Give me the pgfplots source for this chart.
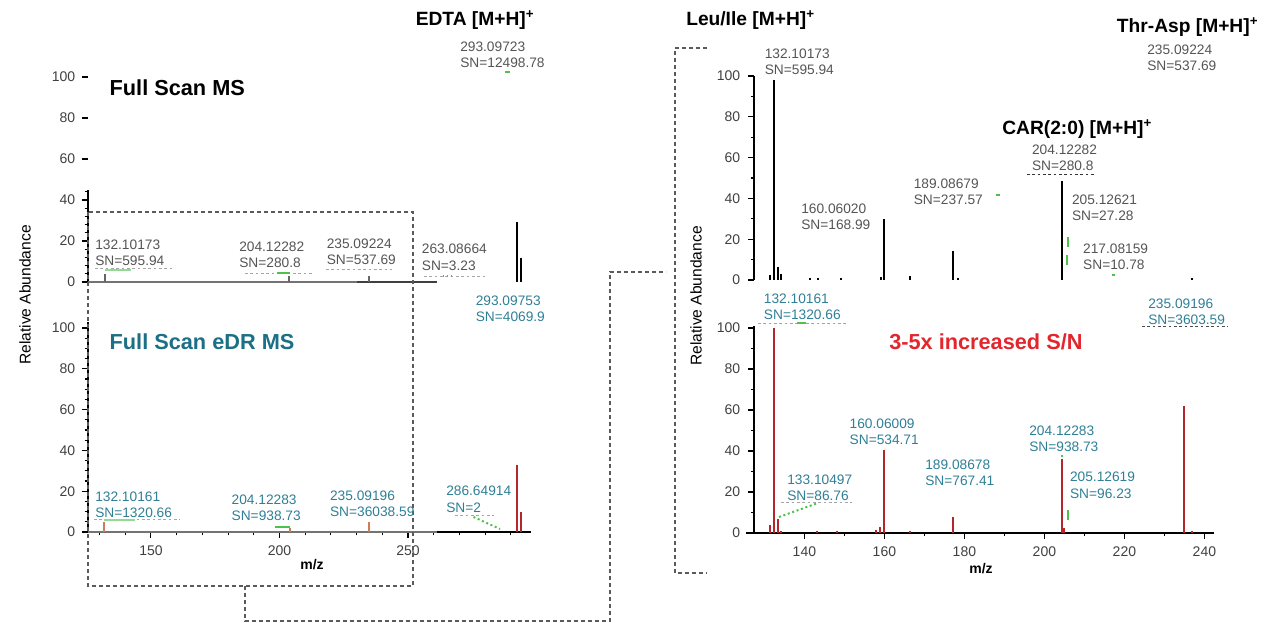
\documentclass[border=0pt]{standalone}
\usepackage{pgfplots}
\pgfplotsset{compat=1.18}
\usepackage{fontspec}
\setmainfont{Liberation Sans}
\definecolor{lblgray}{HTML}{555555}
\definecolor{lblteal}{HTML}{2F7F96}
\definecolor{headteal}{HTML}{1B6F86}
\definecolor{headred}{HTML}{E3262D}
\definecolor{peakred}{HTML}{B3262C}
\definecolor{boxgray}{HTML}{5A5A5A}
\definecolor{agreen}{HTML}{4CC24C}
\definecolor{orng}{HTML}{D07A5A}
\newcommand{\lblfont}{\fontsize{10.3}{12}\selectfont}
\newcommand{\headfont}{\fontsize{16.3}{18}\selectfont\bfseries}
\newcommand{\ionfont}{\fontsize{14.4}{16}\selectfont\bfseries}
\newcommand{\tickfont}{\fontsize{10.5}{12}\selectfont}
\pgfplotsset{
  spec/.style={
    clip=false,
    axis lines=left, axis line style={-, line width=1pt, black},
    tick align=outside, major tick length=4.5pt, minor tick length=2.5pt,
    tick style={black, line width=0.8pt},
    /pgf/number format/assume math mode=true,
    ticklabel style={font=\tickfont, text=black!75, inner sep=0pt},
    yticklabel style={anchor=east, xshift=-4.9pt},
    xticklabel style={anchor=north, yshift=-5.6pt},
    enlargelimits=false,
    anchor=south west,
  }
}
\tikzset{
  lg/.style={anchor=west, inner sep=0pt, text=lblgray, font=\lblfont},
  lt/.style={anchor=west, inner sep=0pt, text=lblteal, font=\lblfont},
  ion/.style={anchor=west, inner sep=0pt, font=\ionfont},
  head/.style={anchor=west, inner sep=0pt, font=\headfont},
  box/.style={draw=boxgray, line width=1.5pt, dash pattern=on 3pt off 2.25pt},
  grn/.style={draw=agreen, line width=1pt},
  und/.style={draw=black!35, line width=0.6pt, dash pattern=on 2pt off 2pt},
}
\begin{document}
\begin{tikzpicture}[x=0.75pt,y=-0.75pt]
\path[use as bounding box] (0,0) rectangle (1264,623);

% ---------- left top: Full Scan MS ----------
\begin{axis}[spec, at={(66pt,-211.5pt)}, x=1.9275pt, y=1.5375pt,
  xmin=125.5, xmax=298, ymin=0, ymax=100,
  x axis line style={draw=none}, y axis line style={draw=none},
  xtick=\empty, ytick={0,20,...,100}, minor ytick={4,8,...,44}]
\draw[black, line width=1pt] (axis cs:125.5,0) -- (axis cs:125.5,45);
\draw[black!55, line width=2.2pt] (axis cs:125.5,0) -- (axis cs:230.2,0);
\draw[black!75, line width=1.6pt] (axis cs:230.2,0) -- (axis cs:261.3,0);
\addplot[ycomb, black!60, line width=1.2pt, mark=none] coordinates {(132.1,4) (203.7,3) (234.8,3)};
\addplot[ycomb, black, line width=1.5pt, mark=none] coordinates {(292.3,29.5) (293.9,11.5)};
\end{axis}

% ---------- left bottom: Full Scan eDR MS ----------
\begin{axis}[spec, at={(66pt,-399pt)}, x=1.9275pt, y=1.53pt,
  xmin=125.5, xmax=298, ymin=0, ymax=103,
  x axis line style={draw=none},
  xtick={150,200,250}, minor xtick={130,140,...,290},
  ytick={0,20,...,100}, minor y tick num=3]
\draw[black!55, line width=1.6pt] (axis cs:125.5,0) -- (axis cs:261.3,0);
\draw[black, line width=1.2pt] (axis cs:261.3,0) -- (axis cs:298,0);
\addplot[ycomb, orng, line width=1.2pt, mark=none] coordinates {(131.7,5) (204,2) (234.8,5)};
\addplot[ycomb, peakred, line width=1.5pt, mark=none] coordinates {(292.3,33) (293.9,10)};
\end{axis}

% ---------- right top ----------
\begin{axis}[spec, at={(565.5pt,-210pt)}, x=3pt, y=1.53pt,
  xmin=127.4, xmax=242.3, ymin=0, ymax=100,
  x axis line style={draw=none}, xtick=\empty,
  ytick={0,20,...,100}, minor y tick num=1, yticklabel style={xshift=-0.7pt}]
\addplot[ycomb, black, line width=1.5pt, mark=none] coordinates {
 (131.4,2.5) (132.5,98) (133.3,6.5) (134.1,3) (141.5,1) (143.3,1) (149.1,1)
 (159.1,1.5) (159.9,30) (166.4,2) (177.25,14) (178.3,1) (204.3,48.5) (236.9,1)};
\end{axis}

% ---------- right bottom ----------
\begin{axis}[spec, at={(565.5pt,-399.75pt)}, x=3pt, y=1.5375pt,
  xmin=127.4, xmax=242.3, ymin=0, ymax=101,
  xtick={140,160,...,240}, minor x tick num=1,
  ytick={0,20,...,100}, minor y tick num=1, yticklabel style={xshift=-0.7pt}]
\draw[black, line width=1pt] (axis cs:125.4,0) -- (axis cs:127.4,0);
\addplot[ycomb, peakred, line width=1.5pt, mark=none] coordinates {
 (131.4,4) (132.5,100) (133.4,7) (134.1,1) (143.1,1) (148.1,1) (157.9,1.5)
 (158.9,3) (159.9,40.5) (166.4,1) (177.25,8) (204.3,36) (204.8,2.5) (234.9,62) (236.9,1)};
\end{axis}

% ---------- dashed boxes / connectors ----------
\draw[box] (88,212) rectangle (413,586);
\draw[box] (245,586) -- (245,621) -- (610,621) -- (610,272) -- (666,272);
\draw[box, line width=1.2pt] (707,48) -- (675,48) -- (675,573) -- (707,573);

% ---------- faint underlines ----------
\draw[und] (95,268) -- (175,268);
\draw[und] (245,273) -- (314,273);
\draw[und] (326,269) -- (392,269);
\draw[und] (424,276) -- (486,276);
\draw[und] (94,519) -- (180,519);
\draw[und] (455,515) -- (494,515);
\draw[und, draw=black!80] (1027,174) -- (1096,174);
\draw[und] (758,323) -- (848,323);
\draw[und, draw=black!70] (1142,326) -- (1228,326);
\draw[und] (781,502) -- (852,502);

% ---------- green annotation marks ----------
\draw[grn] (505,72) -- (510,72);
\draw[grn, draw=agreen!60] (105,270) -- (131,270);
\draw[grn] (277,273) -- (290,273);
\draw[grn, dotted] (443,276) -- (455,276);
\draw[grn, draw=agreen!60] (104,520) -- (135,520);
\draw[grn] (275,527) -- (290,527);
\draw[grn, line width=1.5pt, dotted] (473.5,517) -- (500,529);
\draw[grn] (996,195) -- (1000,195);
\draw[grn, line width=1.5pt] (1067.8,237) -- (1067.8,247);
\draw[grn, line width=1.5pt] (1066.5,255) -- (1066.5,265);
\draw[grn] (1112,275) -- (1115,275);
\draw[grn, line width=1.5pt] (797,323) -- (806,323);
\draw[grn, line width=1.5pt, dotted] (779,517) -- (818,503);
\draw[grn, line width=1.5pt] (1067.8,510) -- (1067.8,520);
\draw[grn] (1061,456) -- (1063,456);

% ---------- left texts ----------
\node[ion] at (415.5,20) {EDTA [M+H]\textsuperscript{+}};
\node[lg] at (460,47) {293.09723};
\node[lg] at (460,63) {SN=12498.78};
\node[head] at (109.4,88) {Full Scan MS};
\node[lg] at (95,245) {132.10173};
\node[lg] at (95,261) {SN=595.94};
\node[lg] at (239,247) {204.12282};
\node[lg] at (239,263) {SN=280.8};
\node[lg] at (326.5,244) {235.09224};
\node[lg] at (326.5,260) {SN=537.69};
\node[lg] at (421.6,249) {263.08664};
\node[lg] at (421.6,266) {SN=3.23};
\node[lt] at (475.5,300.7) {293.09753};
\node[lt] at (475.5,316.7) {SN=4069.9};
\node[head, text=headteal] at (109.4,341.7) {Full Scan eDR MS};
\node[lt] at (95,496.7) {132.10161};
\node[lt] at (95,512.7) {SN=1320.66};
\node[lt] at (231.4,500) {204.12283};
\node[lt] at (231.4,516) {SN=938.73};
\node[lt] at (329.8,496) {235.09196};
\node[lt] at (329.8,512) {SN=36038.59};
\node[lt] at (446,490.7) {286.64914};
\node[lt] at (446,507.3) {SN=2};
\node[font=\tickfont\bfseries, inner sep=0pt] at (312,565) {m/z};
\node[rotate=90, inner sep=0pt, font=\fontsize{11.7}{13}\selectfont] at (25,295) {Relative Abundance};

% ---------- right texts ----------
\node[ion] at (686,20) {Leu/Ile [M+H]\textsuperscript{+}};
\node[lg] at (764.5,53.3) {132.10173};
\node[lg] at (764.5,69.3) {SN=595.94};
\node[ion] at (1116.7,26.7) {Thr-Asp [M+H]\textsuperscript{+}};
\node[lg] at (1147,50) {235.09224};
\node[lg] at (1147,66) {SN=537.69};
\node[ion] at (1002,129.3) {CAR(2:0) [M+H]\textsuperscript{+}};
\node[lg] at (1031.8,150) {204.12282};
\node[lg] at (1031.8,166) {SN=280.8};
\node[lg] at (913.5,183.3) {189.08679};
\node[lg] at (913.5,199.3) {SN=237.57};
\node[lg] at (801,208.3) {160.06020};
\node[lg] at (801,224.3) {SN=168.99};
\node[lg] at (1071.8,199.3) {205.12621};
\node[lg] at (1071.8,215.3) {SN=27.28};
\node[lg] at (1082.9,248.3) {217.08159};
\node[lg] at (1082.9,265) {SN=10.78};
\node[lt] at (763.7,298.3) {132.10161};
\node[lt] at (763.7,315) {SN=1320.66};
\node[lt] at (1148,303.3) {235.09196};
\node[lt] at (1148,320) {SN=3603.59};
\node[head, text=headred] at (889,341.7) {3-5x increased S/N};
\node[lt] at (849.4,423.3) {160.06009};
\node[lt] at (849.4,439.3) {SN=534.71};
\node[lt] at (925,464.3) {189.08678};
\node[lt] at (925,480.3) {SN=767.41};
\node[lt] at (1029,431) {204.12283};
\node[lt] at (1029,447) {SN=938.73};
\node[lt] at (787,479.3) {133.10497};
\node[lt] at (787,496) {SN=86.76};
\node[lt] at (1069.8,476.7) {205.12619};
\node[lt] at (1069.8,493.3) {SN=96.23};
\node[font=\tickfont\bfseries, inner sep=0pt] at (981,569) {m/z};
\node[rotate=90, inner sep=0pt, font=\fontsize{11.7}{13}\selectfont] at (696,296) {Relative Abundance};
\end{tikzpicture}
\end{document}
